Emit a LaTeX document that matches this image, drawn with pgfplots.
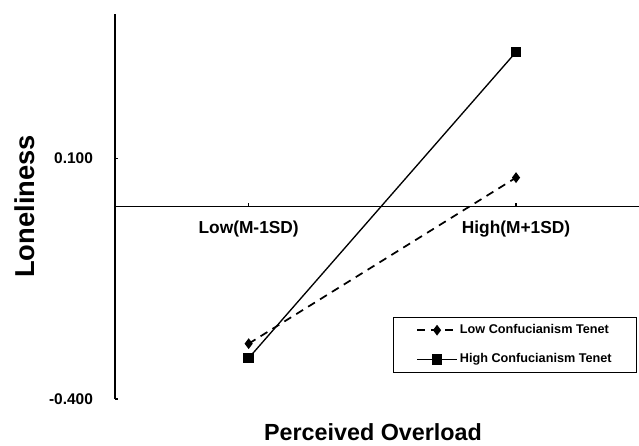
\documentclass[border=0pt]{standalone}
\usepackage{pgfplots}
\pgfplotsset{compat=1.18}
\usepackage{fontspec}
\setmainfont{Liberation Sans}
\begin{document}
\begin{tikzpicture}
\begin{axis}[
  scale only axis, width=393pt, height=288.75pt,
  xmin=0.5, xmax=2.46, ymin=-0.4, ymax=0.4,
  axis x line=middle, axis y line=left,
  axis line style={-, line width=1pt, black},
  xtick={1,2}, xticklabels={Low(M-1SD), High(M+1SD)},
  ytick={-0.4,0.1}, yticklabels={-0.400,0.100},
  tick align=inside, major tick length=2.5pt,
  tick style={black, line width=0.8pt},
  xticklabel style={font=\fontsize{13}{15}\selectfont\bfseries, anchor=north, yshift=-7.5pt},
  yticklabel style={font=\fontsize{11.6}{14}\selectfont\bfseries, anchor=east, xshift=-13pt},
  xlabel={Perceived Overload},
  xlabel style={font=\fontsize{17.5}{20}\selectfont\bfseries, at={(axis description cs:0.4924,-0.109)}, anchor=base, text depth=0pt, inner ysep=0pt},
  ylabel={Loneliness},
  ylabel style={font=\fontsize{20.5}{24}\selectfont\bfseries, at={(axis description cs:-0.1718,0.5)}, anchor=center},
  legend style={at={(rel axis cs:0.5305,0.213)}, anchor=north west, draw=black, line width=0.8pt,
    font=\fontsize{9.5}{11}\selectfont\bfseries, inner xsep=17pt, inner ysep=5pt, row sep=13pt,
    nodes={text height=7pt, text depth=2pt, inner xsep=1.5pt, inner ysep=0pt}},
  legend cell align=left,
  legend image code/.code={
    \draw[#1, mark=none] (0pt,0pt) -- (30pt,0pt);
    \draw[#1] plot coordinates {(15pt,0pt)};
  },
]
\addplot[black, line width=1.3pt, dash pattern=on 6pt off 4.5pt, mark=diamond*, mark size=3pt, mark options={solid}]
  coordinates {(1,-0.285) (2,0.060)};
\addlegendentry{Low Confucianism Tenet}
\addplot[black, line width=1pt, mark=square*, mark size=3.5pt]
  coordinates {(1,-0.315) (2,0.321)};
\addlegendentry{High Confucianism Tenet}
\coordinate (sw) at (rel axis cs:0,0);
\coordinate (ne) at (rel axis cs:1,1);
\end{axis}
\pgfresetboundingbox
\path ([shift={(-86.25pt,-35.25pt)}]sw) rectangle ([shift={(0pt,10.5pt)}]ne);
\end{tikzpicture}
\end{document}
